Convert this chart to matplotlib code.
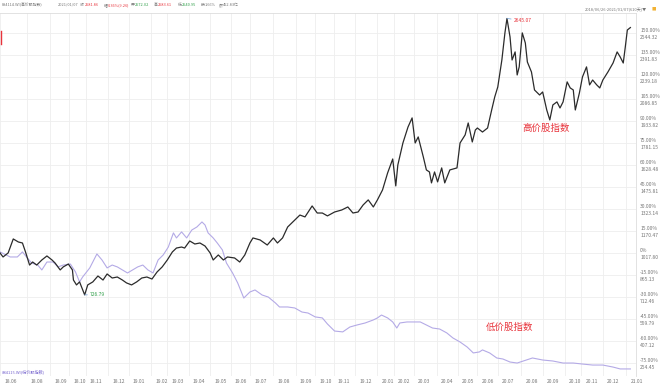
import numpy as np
import matplotlib
matplotlib.use("Agg")
from matplotlib import pyplot as plt
from matplotlib import transforms as mtrans

plt.rcParams['font.family'] = ['Noto Sans CJK SC', 'DejaVu Sans']

# trading-day index since 2018/06/26 and index levels
high_day = [0, 3, 8, 13, 18, 22, 25, 29, 32, 36, 41, 46, 51, 54, 59, 62, 67, 71, 72, 75,
            78, 83, 86, 91, 96, 101, 105, 110, 115, 120, 124, 129, 134, 139, 144, 149, 154, 159, 164, 169,
            173, 178, 181, 186, 191, 196, 201, 206, 209, 214, 219, 223, 230, 235, 240, 245, 248, 255, 262, 268,
            272, 277, 282, 289, 294, 299, 306, 311, 316, 321, 328, 335, 341, 346, 351, 356, 361, 366, 370, 375,
            380, 385, 388, 390, 395, 400, 404, 407, 410, 415, 418, 421, 423, 426, 429, 433, 436, 441, 448, 451,
            456, 459, 463, 466, 468, 473, 478, 482, 485, 488, 492, 495, 497, 500, 502, 505, 507, 509, 512, 515,
            517, 521, 524, 529, 532, 536, 539, 542, 546, 549, 552, 556, 559, 562, 564, 568, 571, 575, 578, 581,
            585, 588, 591, 596, 601, 605, 608, 611, 613, 615, 618]
high_val = [1018, 990, 1018, 1115, 1094, 1087, 1025, 934, 955, 934, 969, 997, 969, 948, 900, 921, 941, 900, 830, 796,
            817, 727, 796, 817, 858, 830, 872, 844, 851, 830, 810, 796, 817, 844, 851, 837, 886, 921, 969, 1025,
            1052, 1059, 1052, 1101, 1080, 1087, 1066, 1018, 969, 1004, 969, 990, 983, 955, 1004, 1087, 1122, 1108, 1073, 1122,
            1087, 1122, 1198, 1247, 1281, 1268, 1344, 1295, 1295, 1275, 1302, 1316, 1337, 1295, 1302, 1351, 1386, 1337, 1386, 1455,
            1573, 1670, 1483, 1628, 1781, 1892, 1955, 1781, 1823, 1684, 1594, 1580, 1504, 1580, 1511, 1608, 1504, 1594, 1608, 1781,
            1837, 1920, 1788, 1871, 1885, 1857, 1885, 2010, 2100, 2170, 2357, 2545, 2645, 2517, 2357, 2413, 2253, 2309, 2545, 2475,
            2343, 2274, 2149, 2114, 2135, 2010, 1941, 2045, 2066, 2024, 2066, 2205, 2163, 2149, 2010, 2128, 2239, 2309, 2184, 2218,
            2184, 2163, 2218, 2274, 2336, 2413, 2378, 2336, 2447, 2565, 2582]

low_day = [0, 10, 17, 22, 26, 31, 37, 41, 46, 52, 57, 62, 69, 74, 78, 81, 88, 95, 100, 105,
           110, 115, 120, 125, 130, 135, 140, 145, 150, 155, 160, 165, 170, 173, 178, 183, 188, 193, 198, 201,
           204, 209, 213, 218, 222, 228, 233, 239, 245, 250, 257, 263, 270, 274, 282, 289, 296, 302, 309, 316,
           321, 328, 336, 343, 350, 358, 366, 370, 374, 380, 385, 389, 392, 399, 405, 412, 418, 424, 431, 438,
           444, 451, 458, 464, 470, 473, 480, 487, 493, 500, 507, 513, 522, 532, 542, 552, 562, 571, 581, 591,
           601, 608, 618]
low_val = [1025, 990, 990, 1025, 990, 948, 934, 900, 955, 955, 921, 934, 941, 886, 817, 851, 914, 1011, 969, 914,
           934, 921, 900, 879, 900, 921, 934, 900, 879, 969, 1004, 1059, 1157, 1122, 1164, 1122, 1177, 1198, 1233, 1212,
           1157, 1122, 1087, 1039, 948, 879, 810, 705, 747, 761, 726, 712, 671, 643, 643, 636, 608, 601, 574, 567,
           525, 476, 470, 504, 518, 532, 553, 567, 587, 567, 539, 497, 532, 539, 539, 539, 518, 497, 490, 463,
           428, 400, 365, 324, 331, 345, 324, 289, 282, 261, 254, 268, 289, 275, 268, 254, 254, 247, 240, 240,
           226, 213, 213]

month_day = [0, 26, 49, 68, 84, 106, 126, 148, 164, 185, 206, 226, 245, 268, 290, 309, 327, 348, 370, 386,
             406, 428, 449, 468, 488, 511, 532, 554, 570, 591, 614]
month_lab = ['18.06', '18.08', '18.09', '18.10', '18.11', '18.12', '19.01', '19.02', '19.03', '19.04', '19.05',
             '19.06', '19.07', '19.08', '19.09', '19.10', '19.11', '19.12', '20.01', '20.02', '20.03', '20.04',
             '20.05', '20.06', '20.07', '20.08', '20.09', '20.10', '20.11', '20.12', '21.01']

BASE = 1017.80
pct_lev = [150, 135, 120, 105, 90, 75, 60, 45, 30, 15, 0, -15, -30, -45, -60, -75]
pct_lab = ['150.00%', '135.00%', '120.00%', '105.00%', '90.00%', '75.00%', '60.00%', '45.00%', '30.00%',
           '15.00%', '0%', '-15.00%', '-30.00%', '-45.00%', '-60.00%', '-75.00%']
price_lab = ['2544.32', '2391.83', '2239.18', '2086.85', '1933.82', '1781.15', '1628.48', '1475.81', '1323.14',
             '1170.47', '1017.80', '865.13', '712.46', '559.79', '407.12', '254.45']

RED = '#e8343c'
GREEN = '#2e9e48'
GRAY = '#777777'
GRID = '#eeeeee'

fig = plt.figure(figsize=(6.6, 3.86), dpi=100)
ax = fig.add_axes([0.0, 1 - 376 / 386, 636 / 660, (376 - 13) / 386])

ax.set_xlim(0, 623.5)
ax.set_ylim(164, 2683)

for d in month_day:
    ax.axvline(d, color=GRID, lw=0.6, zorder=0)
levels = [BASE * (1 + p / 100) for p in pct_lev]
for v in levels:
    ax.axhline(v, color=GRID, lw=0.6, zorder=0)

ax.plot(low_day, low_val, color='#b4aae6', lw=0.8, zorder=2)
ax.plot(high_day, high_val, color='#2b2b2b', lw=0.9, zorder=3)

ax.set_xticks([])
ax.set_yticks([])
for s in ['left', 'bottom']:
    ax.spines[s].set_visible(False)
for s in ['top', 'right']:
    ax.spines[s].set_color('#dddddd')
    ax.spines[s].set_linewidth(0.6)

# right-hand scale
trans_r = mtrans.blended_transform_factory(ax.transAxes, ax.transData)
for v, pl, vl in zip(levels, pct_lab, price_lab):
    ax.annotate(pl, (1, v), xycoords=trans_r, xytext=(3, 1.5), textcoords='offset points',
                fontsize=3.6, color=GRAY, va='center', ha='left', annotation_clip=False)
    ax.annotate(vl, (1, v), xycoords=trans_r, xytext=(3, -3.2), textcoords='offset points',
                fontsize=3.6, color=GRAY, va='center', ha='left', annotation_clip=False)

# month labels along the bottom
trans_b = mtrans.blended_transform_factory(ax.transData, ax.transAxes)
for d, lab in zip(month_day, month_lab):
    ax.annotate(lab, (d, 0), xycoords=trans_b, xytext=(3, -4.2), textcoords='offset points',
                fontsize=3.6, color=GRAY, va='center', ha='left', annotation_clip=False)

# max / min markers
imax = int(np.argmax(high_val))
ax.annotate('2645.07', (high_day[imax], high_val[imax]), xytext=(5, -1.5), textcoords='offset points',
            fontsize=3.6, color=RED, va='center', ha='left',
            arrowprops=dict(arrowstyle='-', color='#6fa0d8', lw=0.5, shrinkA=0, shrinkB=0))
imin = int(np.argmin(high_val))
ax.annotate('726.79', (high_day[imin], high_val[imin]), xytext=(4, 0), textcoords='offset points',
            fontsize=3.6, color=GREEN, va='center', ha='left',
            arrowprops=dict(arrowstyle='-', color='#6fa0d8', lw=0.5, shrinkA=0, shrinkB=0))

ax.text(535, 1880, '高价股指数', color=RED, fontsize=6.8, ha='center', va='center')
ax.text(500, 500, '低价股指数', color=RED, fontsize=6.8, ha='center', va='center')

ax.text(0.003, 0.005, '884115.WI(低价股指数)', transform=ax.transAxes, fontsize=3.0,
        color='#7b6ad0', ha='left', va='bottom')

# left cursor mark
ax.plot([0.5, 0.5], [2470, 2560], color=RED, lw=1.0, clip_on=False)

# header line
hy = 1 - 5 / 386
head = [
    (2, '884114.WI(高价股指数)', GRAY), (58, '2021/01/07', GRAY),
    (80, '收', GRAY), (85, '2581.86', RED),
    (104, '幅', GRAY), (108, '0.36%(9.26)', RED),
    (131, '开', GRAY), (135, '2572.02', GREEN),
    (154, '高', GRAY), (158, '2583.61', RED),
    (178, '低', GRAY), (182, '2540.95', GREEN),
    (201, '换', GRAY), (205, '1.66%', GRAY),
    (219, '额', GRAY), (223, '452.83亿', GRAY),
]
for px, txt, col in head:
    fig.text(px / 660, hy, txt, fontsize=2.8, color=col, ha='left', va='center')

fig.text(647 / 660, 1 - 9 / 386, '2018/06/26-2021/01/07(610天)▼', fontsize=2.9, color=GRAY,
         ha='right', va='center')
fig.text(654 / 660, 1 - 9 / 386, '■', fontsize=3.2, color='#f2b233', ha='center', va='center')

fig.savefig('out.png', dpi=100)
